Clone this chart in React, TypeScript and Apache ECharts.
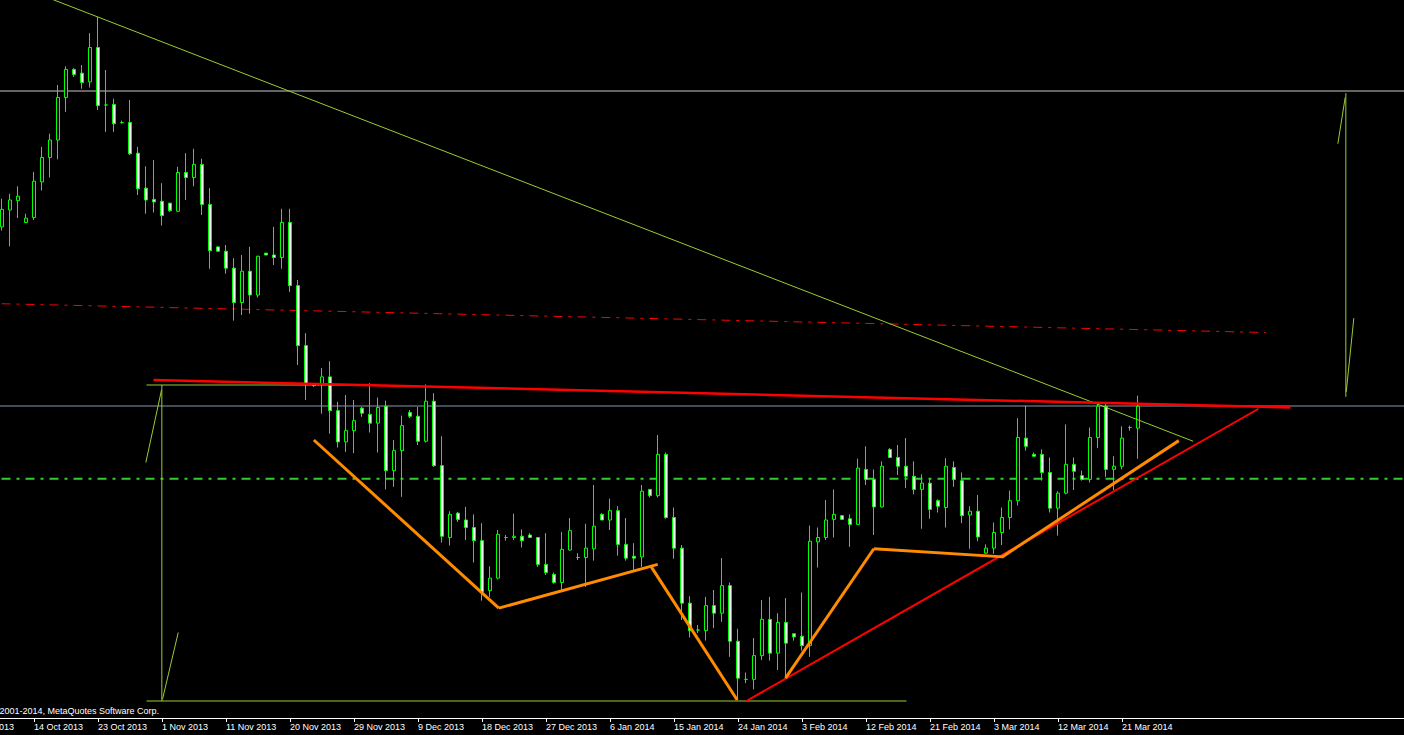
import React, { useEffect, useRef } from "react";
import * as echarts from "echarts";

// bar slots on the category axis (k = bar number, 0 = first visible candle)
const FIRST_SLOT = -5;
const LAST_SLOT = 176;

// daily OHLC, AUD/USD-like prices, bars 0..142
const opens = [
  0.9419, 0.9446, 0.9461, 0.9426, 0.9434, 0.9491, 0.9530, 0.9558, 0.9626, 0.9671,
  0.9665, 0.9651, 0.9706, 0.9614, 0.9615, 0.9586, 0.9586, 0.9537, 0.9481, 0.9463,
  0.9460, 0.9457, 0.9444, 0.9506, 0.9498, 0.9519, 0.9455, 0.9387, 0.9380, 0.9353,
  0.9298, 0.9348, 0.9310, 0.9377, 0.9374, 0.9370, 0.9426, 0.9325, 0.9229, 0.9165,
  0.9167, 0.9179, 0.9125, 0.9075, 0.9093, 0.9129, 0.9119, 0.9105, 0.9132, 0.9029,
  0.9061, 0.9122, 0.9116, 0.9076, 0.9140, 0.9037, 0.8922, 0.8961, 0.8950, 0.8938,
  0.8917, 0.8837, 0.8857, 0.8922, 0.8922, 0.8924, 0.8926, 0.8922, 0.8879, 0.8863,
  0.8850, 0.8902, 0.8890, 0.8890, 0.8904, 0.8959, 0.8950, 0.8965, 0.8911, 0.8892,
  0.8891, 0.8999, 0.8989, 0.9055, 0.8954, 0.8905, 0.8817, 0.8774, 0.8773, 0.8813,
  0.8801, 0.8845, 0.8756, 0.8695, 0.8695, 0.8733, 0.8791, 0.8737, 0.8786, 0.8768,
  0.8764, 0.8749, 0.8915, 0.8922, 0.8951, 0.8957, 0.8952, 0.8943, 0.9031, 0.9015,
  0.8971, 0.9063, 0.9050, 0.9036, 0.9020, 0.8999, 0.9009, 0.8981, 0.8970, 0.9034,
  0.9013, 0.8958, 0.8964, 0.8897, 0.8905, 0.8930, 0.8954, 0.8981, 0.9081, 0.9055,
  0.9055, 0.9026, 0.8969, 0.8993, 0.9039, 0.9021, 0.9015, 0.9082, 0.9132, 0.9031,
  0.9036, 0.9098, 0.9097,
];
const highs = [
  0.9464, 0.9472, 0.9484, 0.9440, 0.9507, 0.9547, 0.9568, 0.9646, 0.9676, 0.9673,
  0.9678, 0.9729, 0.9755, 0.9670, 0.9624, 0.9589, 0.9622, 0.9547, 0.9516, 0.9526,
  0.9489, 0.9457, 0.9515, 0.9537, 0.9544, 0.9528, 0.9481, 0.9388, 0.9390, 0.9369,
  0.9374, 0.9387, 0.9373, 0.9377, 0.9419, 0.9448, 0.9448, 0.9334, 0.9249, 0.9168,
  0.9193, 0.9204, 0.9139, 0.9150, 0.9142, 0.9131, 0.9169, 0.9146, 0.9141, 0.9078,
  0.9117, 0.9126, 0.9131, 0.9167, 0.9153, 0.9084, 0.8964, 0.8963, 0.8971, 0.8959,
  0.8945, 0.8876, 0.8934, 0.8926, 0.8960, 0.8935, 0.8929, 0.8922, 0.8929, 0.8866,
  0.8931, 0.8953, 0.8897, 0.8944, 0.9006, 0.8961, 0.8984, 0.8972, 0.8953, 0.8913,
  0.9006, 0.8999, 0.9086, 0.9058, 0.8970, 0.8910, 0.8828, 0.8782, 0.8827, 0.8838,
  0.8889, 0.8850, 0.8776, 0.8706, 0.8761, 0.8822, 0.8827, 0.8801, 0.8825, 0.8768,
  0.8834, 0.8941, 0.8938, 0.8982, 0.8999, 0.8957, 0.8959, 0.9048, 0.9068, 0.9031,
  0.9044, 0.9065, 0.9070, 0.9081, 0.9044, 0.9023, 0.9017, 0.8983, 0.9049, 0.9044,
  0.9026, 0.8972, 0.8990, 0.8911, 0.8946, 0.8970, 0.8997, 0.9113, 0.9133, 0.9058,
  0.9063, 0.9050, 0.8996, 0.9103, 0.9050, 0.9029, 0.9098, 0.9137, 0.9137, 0.9052,
  0.9100, 0.9101, 0.9149,
];
const lows = [
  0.9413, 0.9388, 0.9433, 0.9425, 0.9430, 0.9477, 0.9498, 0.9527, 0.9603, 0.9659,
  0.9640, 0.9642, 0.9606, 0.9571, 0.9571, 0.9584, 0.9534, 0.9470, 0.9440, 0.9442,
  0.9421, 0.9443, 0.9443, 0.9462, 0.9484, 0.9438, 0.9352, 0.9380, 0.9344, 0.9269,
  0.9278, 0.9280, 0.9306, 0.9374, 0.9358, 0.9352, 0.9315, 0.9198, 0.9142, 0.9163,
  0.9120, 0.9088, 0.9066, 0.9059, 0.9057, 0.9115, 0.9090, 0.9058, 0.8999, 0.9003,
  0.8987, 0.9113, 0.9070, 0.9074, 0.9035, 0.8914, 0.8909, 0.8947, 0.8918, 0.8882,
  0.8821, 0.8827, 0.8855, 0.8917, 0.8918, 0.8906, 0.8922, 0.8875, 0.8862, 0.8848,
  0.8838, 0.8901, 0.8886, 0.8843, 0.8885, 0.8950, 0.8934, 0.8893, 0.8885, 0.8870,
  0.8875, 0.8986, 0.8986, 0.8952, 0.8888, 0.8790, 0.8762, 0.8769, 0.8757, 0.8777,
  0.8787, 0.8731, 0.8662, 0.8689, 0.8679, 0.8726, 0.8725, 0.8710, 0.8696, 0.8757,
  0.8741, 0.8731, 0.8874, 0.8918, 0.8922, 0.8951, 0.8907, 0.8942, 0.9006, 0.8926,
  0.8970, 0.9050, 0.9022, 0.9001, 0.8991, 0.8936, 0.8952, 0.8962, 0.8938, 0.9003,
  0.8945, 0.8904, 0.8916, 0.8896, 0.8896, 0.8910, 0.8935, 0.8973, 0.9061, 0.9052,
  0.9013, 0.8962, 0.8925, 0.8991, 0.8998, 0.9013, 0.9010, 0.9065, 0.9019, 0.8998,
  0.9031, 0.9093, 0.9048,
];
const closes = [
  0.9447, 0.9462, 0.9468, 0.9433, 0.9492, 0.9530, 0.9558, 0.9626, 0.9671, 0.9663,
  0.9650, 0.9706, 0.9613, 0.9614, 0.9584, 0.9586, 0.9536, 0.9480, 0.9462, 0.9459,
  0.9437, 0.9445, 0.9506, 0.9498, 0.9519, 0.9455, 0.9381, 0.9380, 0.9353, 0.9298,
  0.9348, 0.9310, 0.9372, 0.9374, 0.9370, 0.9426, 0.9325, 0.9229, 0.9167, 0.9167,
  0.9179, 0.9125, 0.9075, 0.9093, 0.9109, 0.9121, 0.9105, 0.9130, 0.9029, 0.9061,
  0.9101, 0.9116, 0.9076, 0.9140, 0.9037, 0.8924, 0.8959, 0.8951, 0.8938, 0.8917,
  0.8835, 0.8857, 0.8927, 0.8922, 0.8924, 0.8917, 0.8922, 0.8879, 0.8866, 0.8850,
  0.8903, 0.8933, 0.8890, 0.8905, 0.8940, 0.8950, 0.8965, 0.8911, 0.8889, 0.8889,
  0.8996, 0.8989, 0.9055, 0.8954, 0.8905, 0.8817, 0.8773, 0.8774, 0.8813, 0.8801,
  0.8845, 0.8756, 0.8697, 0.8695, 0.8733, 0.8791, 0.8737, 0.8786, 0.8753, 0.8763,
  0.8749, 0.8916, 0.8922, 0.8950, 0.8959, 0.8951, 0.8943, 0.9033, 0.9015, 0.8971,
  0.9036, 0.9050, 0.9036, 0.9020, 0.8999, 0.9009, 0.8967, 0.8972, 0.9036, 0.9015,
  0.8957, 0.8964, 0.8923, 0.8905, 0.8930, 0.8954, 0.8981, 0.9082, 0.9068, 0.9052,
  0.9026, 0.8969, 0.8993, 0.9039, 0.9028, 0.9015, 0.9082, 0.9132, 0.9031, 0.9036,
  0.9081, 0.9098, 0.9132,
];

// date labels: [bar number, text]
const tickLabels: [number, string][] = [
  [-4, "4 Oct 2013"], [4, "14 Oct 2013"], [12, "23 Oct 2013"], [20, "1 Nov 2013"],
  [28, "11 Nov 2013"], [36, "20 Nov 2013"], [44, "29 Nov 2013"], [52, "9 Dec 2013"],
  [60, "18 Dec 2013"], [68, "27 Dec 2013"], [76, "6 Jan 2014"], [84, "15 Jan 2014"],
  [92, "24 Jan 2014"], [100, "3 Feb 2014"], [108, "12 Feb 2014"], [116, "21 Feb 2014"],
  [124, "3 Mar 2014"], [132, "12 Mar 2014"], [140, "21 Mar 2014"],
];

// price range of the window
const PRICE_MIN = 0.86332;
const PRICE_MAX = 0.9782;

// drawn objects, as [bar number, price]
const levelTop = 0.96364;
const levelNeck = 0.91324;
const levelGreen = 0.9016;
const downTrend = [[5.975, 0.97846], [148.9, 0.9076]];
const redDashed = [[-0.0625, 0.9296], [158.0, 0.925]];
const neckline = [[18.94, 0.9174], [161.06, 0.913]];
const supportRise = [[93.0, 0.866], [157.06, 0.9128]];
const orangeLegs = [
  [[38.98, 0.9078], [62.1, 0.8809]],
  [[62.1, 0.8809], [81.97, 0.8879]],
  [[81.06, 0.8877], [91.9, 0.8662]],
  [[97.94, 0.8697], [108.98, 0.8904]],
  [[108.98, 0.8904], [125.15, 0.8891]],
  [[125.03, 0.8891], [147.1, 0.9077]],
];
const leftRuler = [
  [[18.06, 0.9166], [44.44, 0.9166]],
  [[18.06, 0.86604], [113.06, 0.86604]],
  [[19.98, 0.9166], [19.98, 0.86604]],
  [[17.98, 0.9042], [19.94, 0.9158]],
  [[20.06, 0.8663], [22.03, 0.877]],
];
const rightRuler = [
  [[167.98, 0.9633], [167.98, 0.9147]],
  [[166.98, 0.9552], [167.9, 0.9626]],
  [[168.03, 0.9155], [168.98, 0.9273]],
];

const LIME = "#00ff00";
const YG = "#9acd32";
const FONT = '"Liberation Sans", Arial, sans-serif';

const SLOT_W = 8; // px per bar
const BAR0_X = 1.5; // page x of bar 0 centre
const N_SLOTS = LAST_SLOT - FIRST_SLOT + 1;
const CHART_LEFT = BAR0_X - (0 - FIRST_SLOT + 0.5) * SLOT_W; // page x of the plot's left edge
const CHART_W = N_SLOTS * SLOT_W;

export default function App() {
  const ref = useRef<HTMLDivElement>(null);
  useEffect(() => {
    if (!ref.current) return;
    const chart = echarts.init(ref.current, undefined, { renderer: "svg" });
    const slots: string[] = [];
    const candles: any[] = [];
    for (let k = FIRST_SLOT; k <= LAST_SLOT; k++) {
      slots.push(String(k));
      if (k >= 0 && k < opens.length) candles.push([opens[k], closes[k], lows[k], highs[k]]);
      else candles.push(["-", "-", "-", "-"]);
    }
    const labelMap = new Map<number, string>(tickLabels);
    const isLabeled = (index: number) => labelMap.has(index + FIRST_SLOT);

    const seg = (pts: number[][], color: string, width: number, type: any = "solid", z = 3) => ({
      type: "line",
      xAxisIndex: 1,
      yAxisIndex: 0,
      data: pts,
      symbol: "none",
      showSymbol: false,
      silent: true,
      clip: true,
      z,
      lineStyle: { color, width, type, cap: "butt" },
      emphasis: { disabled: true },
    });
    const full = (p: number) => [[FIRST_SLOT - 0.5, p], [LAST_SLOT + 0.5, p]];

    const option: any = {
      animation: false,
      backgroundColor: "#000000",
      grid: { left: 0, top: 0, width: CHART_W, height: 718, containLabel: false },
      xAxis: [
        {
          type: "category",
          data: slots,
          boundaryGap: true,
          axisLine: { show: true, lineStyle: { color: "#ffffff", width: 1 } },
          axisTick: {
            show: true,
            alignWithLabel: true,
            interval: (i: number) => isLabeled(i),
            length: 4,
            lineStyle: { color: "#ffffff" },
          },
          axisLabel: {
            show: true,
            interval: (i: number) => isLabeled(i),
            formatter: (_v: string, i: number) => labelMap.get(i + FIRST_SLOT) || "",
            align: "left",
            color: "#ffffff",
            fontSize: 9,
            fontFamily: FONT,
            margin: 4,
          },
          splitLine: { show: false },
        },
        {
          type: "value",
          show: false,
          min: FIRST_SLOT - 0.5,
          max: LAST_SLOT + 0.5,
          splitLine: { show: false },
        },
      ],
      yAxis: {
        type: "value",
        show: false,
        min: PRICE_MIN,
        max: PRICE_MAX,
        splitLine: { show: false },
      },
      series: [
        seg(full(levelTop), "#c8c8c8", 1, "solid", 1),
        seg(full(levelNeck), "#8a96aa", 1, "solid", 1),
        seg([[-0.0625, levelGreen], [LAST_SLOT + 0.5, levelGreen]], "#32cd32", 2, [9, 6, 3, 6], 1),
        seg(redDashed, "#ff0000", 1, [9, 6, 3, 6], 1),
        {
          type: "candlestick",
          xAxisIndex: 0,
          yAxisIndex: 0,
          data: candles,
          barWidth: 4,
          silent: true,
          z: 2,
          itemStyle: {
            color: "#000000",
            color0: "#ffffff",
            borderColor: LIME,
            borderColor0: LIME,
            borderColorDoji: LIME,
            borderWidth: 1,
          },
          emphasis: { disabled: true },
        },
        seg(downTrend, YG, 1),
        ...leftRuler.map((p) => seg(p, YG, 1)),
        ...rightRuler.map((p) => seg(p, YG, 1)),
        seg(neckline, "#ff0000", 2.5),
        seg(supportRise, "#ff0000", 2),
        ...orangeLegs.map((p) => seg(p, "#ff8c00", 3)),
      ],
      graphic: [
        {
          type: "text",
          x: 158.5 - CHART_LEFT,
          y: 711,
          silent: true,
          style: {
            text: "\u00a9 2001-2014, MetaQuotes Software Corp.",
            fill: "#ffffff",
            fontSize: 9,
            fontFamily: FONT,
            align: "right",
            verticalAlign: "middle",
          },
        },
      ],
    };
    chart.setOption(option);
    return () => chart.dispose();
  }, []);
  return (
    <div
      style={{
        position: "fixed",
        left: 0,
        top: 0,
        width: 1404,
        height: 735,
        overflow: "hidden",
        background: "#000",
      }}
    >
      <div
        ref={ref}
        style={{ position: "absolute", left: CHART_LEFT, top: 0, width: CHART_W, height: 735 }}
      />
    </div>
  );
}
